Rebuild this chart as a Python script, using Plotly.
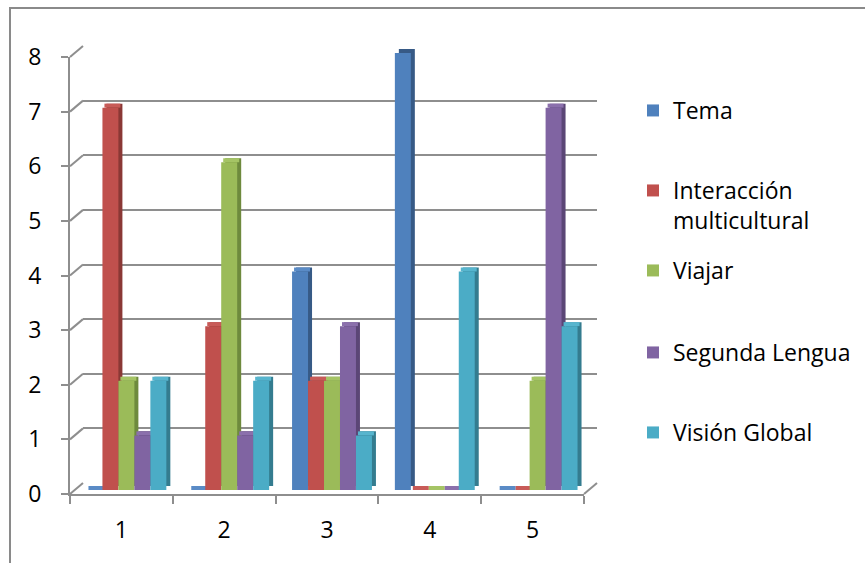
import plotly.graph_objects as go

# ---------------- data ----------------
categories = ["1", "2", "3", "4", "5"]
series_names = ["Tema", "Interacción<br>multicultural", "Viajar", "Segunda Lengua", "Visión Global"]
tema = [0, 0, 4, 8, 0]
interaccion = [7, 3, 2, 0, 0]
viajar = [2, 6, 2, 0, 2]
segunda = [1, 1, 3, 0, 7]
vision = [2, 2, 1, 4, 3]
y_ticks = [0, 1, 2, 3, 4, 5, 6, 7, 8]

series_values = [tema, interaccion, viajar, segunda, vision]

# ---------------- style ----------------
W, H = 865, 563
front_colors = ["#4F81BD", "#C0504D", "#9BBB59", "#8064A2", "#4BACC6"]
cap_colors = ["#5A8BC6", "#C85B58", "#A5C465", "#8B70AC", "#57B5CE"]
side_colors = ["#375A86", "#8A3835", "#6E8A3D", "#5B4676", "#347C8F"]
GRID = "#8E8E8E"
FONT = "Open Sans"


def px(x):
    return x / W


def py(y):
    return 1 - y / H


# pixel geometry of the pseudo-3D frame
FRONT_X0, FRONT_X1 = 70, 584
FRONT_Y0, FRONT_Y8 = 494, 57
DEPTH_X, DEPTH_Y = 13, 11
BAR_DX, BAR_DY = 5, 4        # bars sit in the middle of the depth
SIDE = 4                     # side face depth of a bar
unit_px = (FRONT_Y0 - FRONT_Y8) / 8.0
CAP = SIDE / unit_px

fig = go.Figure()

ymax = 8


def dom_x(offset):
    return [px(FRONT_X0 + offset), px(FRONT_X1 + offset)]


def dom_y(offset):
    return [py(FRONT_Y0 - offset), py(FRONT_Y8 - offset)]


# layer 1: back grid (x / y)
fig.add_trace(go.Scatter(x=categories, y=[None] * 5, xaxis="x", yaxis="y",
                         showlegend=False, hoverinfo="skip"))

# layer 2: side faces (x2 / y2)
for i, vals in enumerate(series_values):
    fig.add_trace(go.Bar(x=categories, y=vals, xaxis="x2", yaxis="y2",
                         marker=dict(color=side_colors[i], line=dict(width=0)),
                         showlegend=False, hoverinfo="skip"))
# layer 3: top caps (x3 / y3)
for i, vals in enumerate(series_values):
    fig.add_trace(go.Bar(x=categories, y=[CAP] * len(vals), base=vals,
                         xaxis="x3", yaxis="y3",
                         marker=dict(color=cap_colors[i], line=dict(width=0)),
                         showlegend=False, hoverinfo="skip"))
# layer 4: front faces (x4 / y4)
legend_ids = ["legend", "legend2", "legend3", "legend4", "legend5"]
for i, vals in enumerate(series_values):
    fig.add_trace(go.Bar(x=categories, y=vals, xaxis="x4", yaxis="y4",
                         name=series_names[i],
                         marker=dict(color=front_colors[i], line=dict(width=0)),
                         legend=legend_ids[i]))
# layer 5: front axes (x5 / y5)
fig.add_trace(go.Scatter(x=categories, y=[None] * 5, xaxis="x5", yaxis="y5",
                         showlegend=False, hoverinfo="skip"))

cat_range = [-0.5, 4.5]
hidden = dict(visible=False, showgrid=False, zeroline=False, fixedrange=True,
              automargin=False)

layout = dict(
    template="none",
    width=W, height=H,
    margin=dict(l=0, r=0, t=0, b=0, pad=0, autoexpand=False),
    paper_bgcolor="white", plot_bgcolor="rgba(0,0,0,0)",
    barmode="group", bargap=0.223, bargroupgap=0,
    font=dict(family=FONT, size=23, color="black"),
    showlegend=True,
    xaxis=dict(hidden, domain=dom_x(DEPTH_X), range=cat_range, type="category",
               anchor="y"),
    yaxis=dict(domain=dom_y(DEPTH_Y), range=[0, ymax], anchor="x",
               showgrid=True, gridcolor=GRID, gridwidth=2, dtick=1,
               showticklabels=False, zeroline=False, showline=False,
               ticks="", fixedrange=True, automargin=False),
    xaxis2=dict(hidden, domain=dom_x(BAR_DX + SIDE), range=cat_range,
                type="category", anchor="y2"),
    yaxis2=dict(hidden, domain=dom_y(BAR_DY + SIDE), range=[0, ymax], anchor="x2"),
    xaxis3=dict(hidden, domain=dom_x(BAR_DX + SIDE / 2), range=cat_range,
                type="category", anchor="y3"),
    yaxis3=dict(hidden, domain=dom_y(BAR_DY), range=[0, ymax], anchor="x3"),
    xaxis4=dict(hidden, domain=dom_x(BAR_DX), range=cat_range,
                type="category", anchor="y4"),
    yaxis4=dict(hidden, domain=dom_y(BAR_DY), range=[0, ymax], anchor="x4"),
    xaxis5=dict(domain=dom_x(0), range=cat_range, type="category", anchor="y5",
                showline=True, linecolor=GRID, linewidth=2,
                ticks="outside", ticklen=8, tickwidth=2, tickcolor=GRID,
                tickson="boundaries", showgrid=False, zeroline=False,
                ticklabelstandoff=14, fixedrange=True, automargin=False,
                tickfont=dict(family=FONT, size=23, color="black")),
    yaxis5=dict(domain=dom_y(0), range=[0, ymax], anchor="x5",
                tickvals=y_ticks, ticktext=[str(t) for t in y_ticks],
                showline=True, linecolor=GRID, linewidth=2,
                ticks="outside", ticklen=7, tickwidth=2, tickcolor=GRID,
                showgrid=False, zeroline=False, ticklabelstandoff=15,
                fixedrange=True, automargin=False,
                tickfont=dict(family=FONT, size=23, color="black")),
)

legend_centers = [110, 190, 270, 352, 432]
for i, lid in enumerate(legend_ids):
    layout[lid] = dict(
        x=px(633), xanchor="left",
        y=py(legend_centers[i] - 21), yanchor="top",
        valign="top",
        font=dict(family=FONT, size=23, color="black"),
        bgcolor="rgba(0,0,0,0)", borderwidth=0,
    )

fig.update_layout(**layout)

# pseudo-3D frame: diagonal connectors between front axis and back grid
shapes = []
for t in y_ticks:
    yf = FRONT_Y0 - t * unit_px
    shapes.append(dict(type="line", xref="paper", yref="paper",
                       x0=px(FRONT_X0), y0=py(yf),
                       x1=px(FRONT_X0 + DEPTH_X), y1=py(yf - DEPTH_Y),
                       line=dict(color=GRID, width=2), layer="below"))
# right edge of the floor
shapes.append(dict(type="line", xref="paper", yref="paper",
                   x0=px(FRONT_X1), y0=py(FRONT_Y0),
                   x1=px(FRONT_X1 + DEPTH_X), y1=py(FRONT_Y0 - DEPTH_Y),
                   line=dict(color=GRID, width=2), layer="below"))
# outer chart border
shapes.append(dict(type="rect", xref="paper", yref="paper",
                   x0=px(10), y0=py(8), x1=px(W + 20), y1=py(H + 20),
                   line=dict(color="#8A8A8A", width=2), layer="below"))
fig.update_layout(shapes=shapes)

fig.write_html("out.html",
               config={"displayModeBar": False, "staticPlot": False},
               post_script="document.body.style.margin='0';")
